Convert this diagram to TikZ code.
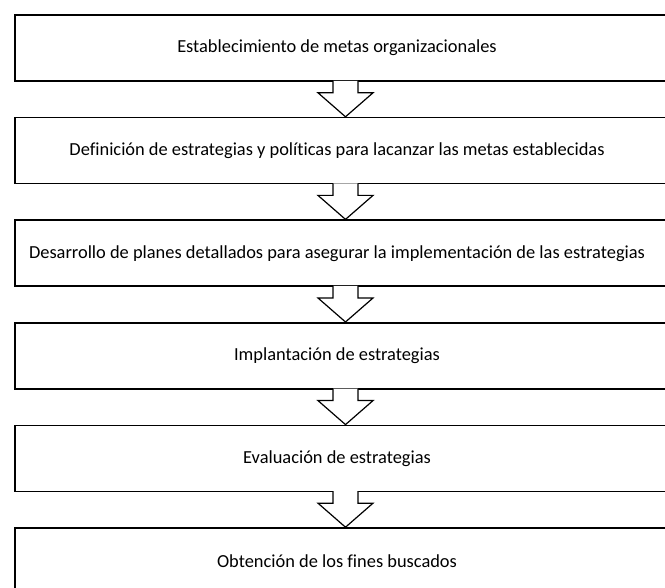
\documentclass[tikz,border=0pt]{standalone}
\usepackage{fontspec}
\setmainfont{Carlito}[Ligatures=NoCommon]
\usetikzlibrary{calc}

\tikzset{
  stagebox/.style={draw=black, line width=1.6pt, fill=white, minimum width=656pt,
    minimum height=66pt, inner sep=0pt, font=\fontsize{18.4}{21}\selectfont,
    execute at begin node=\hspace*{-12pt}},
  blockarrow/.style={draw=black, line width=1.2pt, fill=white, line join=miter}
}

\begin{document}
\begin{tikzpicture}[x=1pt,y=1pt]
\useasboundingbox (0,0) rectangle (665,-588);
\clip (0,0) rectangle (665,-588);

\node[stagebox] (metas) at (343,-48) {Establecimiento de metas organizacionales};
\node[stagebox] (estrategias) at (343,-150.6) {Definición de estrategias y políticas para lacanzar las metas establecidas};
\node[stagebox] (planes) at (343,-253.2) {Desarrollo de planes detallados para asegurar la implementación de las estrategias};
\node[stagebox] (implantacion) at (343,-355.8) {Implantación de estrategias};
\node[stagebox] (evaluacion) at (343,-458.4) {Evaluación de estrategias};
\node[stagebox] (fines) at (343,-561) {Obtención de los fines buscados};

% flechas de bloque entre etapas
\foreach \a/\b in {metas/estrategias, estrategias/planes, planes/implantacion,
  implantacion/evaluacion, evaluacion/fines}
  \draw[blockarrow] ($(\a.south)+(-10,1)$) -- ++(0,-12) -- ++(-15,0)
    -- ($(\b.north)+(2.5,0)$) -- ($(\a.south)+(30,-11)$) -- ++(-15,0) -- ++(0,12);

\end{tikzpicture}
\end{document}
